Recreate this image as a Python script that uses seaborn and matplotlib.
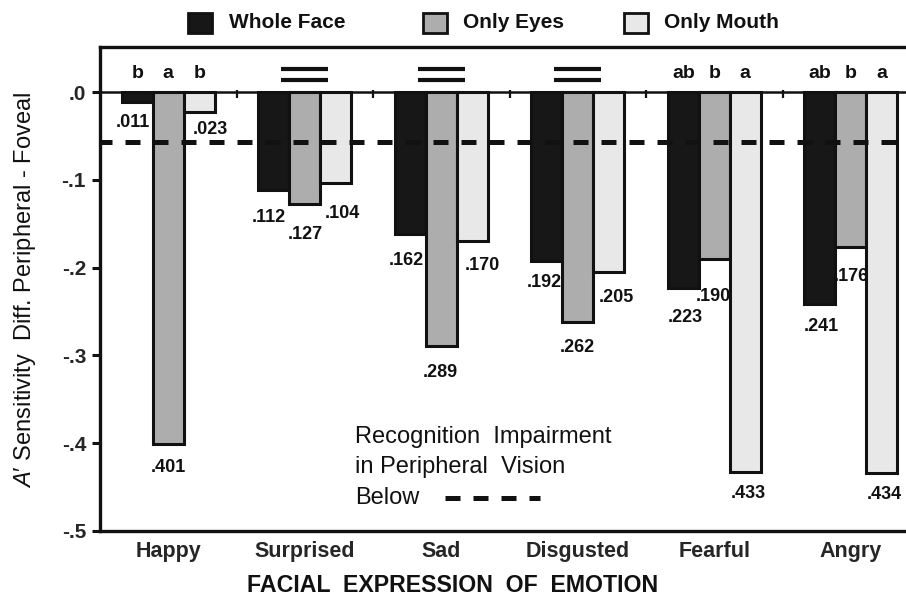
import numpy as np
import pandas as pd
import matplotlib
matplotlib.use("Agg")
import matplotlib.pyplot as plt
from matplotlib.patches import Rectangle
from matplotlib.lines import Line2D
import seaborn as sns

# ---------------- data ----------------
emotions = ["Happy", "Surprised", "Sad", "Disgusted", "Fearful", "Angry"]
conditions = ["Whole Face", "Only Eyes", "Only Mouth"]
whole_face = [-0.011, -0.112, -0.162, -0.192, -0.223, -0.241]
only_eyes = [-0.401, -0.127, -0.289, -0.262, -0.190, -0.176]
only_mouth = [-0.023, -0.104, -0.170, -0.205, -0.433, -0.434]
# significance letters above bars (None -> "=" sign, no difference)
sig_letters = [["b", "a", "b"], None, None, None, ["ab", "b", "a"], ["ab", "b", "a"]]
impairment_threshold = -0.057
ytick_values = [-0.5, -0.4, -0.3, -0.2, -0.1, 0.0]
ytick_labels = ["-.5", "-.4", "-.3", "-.2", "-.1", ".0"]

colors = ["#171717", "#adadad", "#e8e8e8"]

# value-label offsets in pixels (dx, dy below bar end), per condition
label_off = {
    "Whole Face": [(-4, 21), (-5, 27), (-4, 26), (-2, 22), (2, 30), (2, 23)],
    "Only Eyes": [(0, 23), (1, 31), (-1, 27), (0, 25), (-1, 38), (1, 30)],
    "Only Mouth": [(11, 17), (7, 30), (10, 24), (8, 25), (3, 21), (3, 21)],
}

df = pd.DataFrame({
    "emotion": np.repeat(emotions, 3),
    "condition": conditions * len(emotions),
    "value": np.ravel(np.column_stack([whole_face, only_eyes, only_mouth])),
})

# ---------------- figure ----------------
sns.set_style("white")
plt.rcParams["font.family"] = ["Liberation Sans", "DejaVu Sans"]
plt.rcParams["mathtext.fontset"] = "custom"
plt.rcParams["mathtext.rm"] = "Liberation Sans"
plt.rcParams["mathtext.it"] = "Liberation Sans:italic"

W, H = 906, 595
fig = plt.figure(figsize=(W / 100, H / 100), dpi=100)
ax_left, ax_right, ax_top, ax_bot = 100, 919, 47, 531
ax = fig.add_axes([ax_left / W, 1 - ax_bot / H, (ax_right - ax_left) / W, (ax_bot - ax_top) / H])

sns.barplot(data=df, x="emotion", y="value", hue="condition", order=emotions,
            hue_order=conditions, palette=colors, width=0.68, gap=0,
            edgecolor="#111111", linewidth=2.2, saturation=1, ax=ax,
            legend=False, zorder=2)

ax.set_xlim(-0.5, len(emotions) - 0.5)
ax.set_ylim(-0.5, 0.0513)

# spines
for side in ["left", "bottom", "top"]:
    ax.spines[side].set_linewidth(2.4)
    ax.spines[side].set_color("#111111")
ax.spines["right"].set_visible(False)

# zero line and small group-boundary ticks
ax.axhline(0, color="#111111", lw=1.8, zorder=3)
for b in np.arange(0.5, len(emotions) - 0.5, 1):
    ax.plot([b, b], [0.002, -0.007], color="#111111", lw=1.6, zorder=3,
            solid_capstyle="butt")

# impairment threshold dashed line
ax.axhline(impairment_threshold, color="#111111", lw=3.6, ls=(0.6, (3.0, 2.6)),
           zorder=4, dash_capstyle="butt")

# ticks
ax.set_yticks(ytick_values)
ax.set_yticklabels(ytick_labels, fontsize=15, fontweight="bold")
ax.tick_params(axis="y", direction="out", length=6, width=2.2, pad=4, left=True,
               color="#111111")
ax.tick_params(axis="x", length=0, pad=7)
ax.set_xticks(range(len(emotions)))
ax.set_xticklabels(emotions, fontsize=15.5, fontweight="bold")
ax.set_xlabel("")
ax.set_ylabel("")

# value labels
for j, cond in enumerate(conditions):
    cont = ax.containers[j]
    for i, bar in enumerate(cont):
        cx = bar.get_x() + bar.get_width() / 2
        v = df[(df.condition == cond) & (df.emotion == emotions[i])]["value"].iloc[0]
        dx, dy = label_off[cond][i]
        txt = f"{abs(v):.3f}"[1:]
        ax.annotate(txt, xy=(cx, v), xytext=(dx, -dy), textcoords="offset pixels",
                    ha="center", va="center", fontsize=13, fontweight="bold",
                    color="#111111", zorder=5)

# significance letters / equality signs
for i, lets in enumerate(sig_letters):
    if lets is None:
        for yy in (0.0265, 0.0140):
            ax.plot([i - 0.172, i + 0.172], [yy, yy], color="#111111", lw=3.0,
                    solid_capstyle="butt", zorder=3)
    else:
        for j, cont in enumerate(ax.containers):
            bar = cont[i]
            cx = bar.get_x() + bar.get_width() / 2
            ax.text(cx, 0.0215, lets[j], ha="center", va="center", fontsize=14,
                    fontweight="bold", color="#111111")

# in-plot annotation
ann_x = 355 / W
fs_ann = 17
fig.text(ann_x, 1 - 437 / H, "Recognition  Impairment", fontsize=fs_ann, va="center",
         ha="left", color="#111111")
fig.text(ann_x, 1 - 467 / H, "in Peripheral  Vision", fontsize=fs_ann, va="center",
         ha="left", color="#111111")
fig.text(ann_x, 1 - 498 / H, "Below", fontsize=fs_ann, va="center", ha="left",
         color="#111111")
fig.add_artist(Line2D([445 / W, 540 / W], [1 - 498 / H, 1 - 498 / H], color="#111111",
                      lw=3.6, ls=(0, (3.0, 2.6)), dash_capstyle="butt"))

# axis titles
fig.text(25 / W, 1 - 290 / H, r"$\mathit{A}$" + "\u2032 Sensitivity  Diff. Peripheral - Foveal",
         rotation=90, ha="center", va="center", fontsize=17, color="#111111")
fig.text(453 / W, 1 - 585 / H, "FACIAL  EXPRESSION  OF  EMOTION", ha="center",
         va="center", fontsize=16.7, fontweight="bold", color="#111111")

# legend (manual, top)
leg_items = [(188, 229), (423, 463), (624, 664)]
for (sx, tx), c, lab in zip(leg_items, colors, conditions):
    fig.patches.append(Rectangle((sx / W, 1 - 33 / H), 24 / W, 20 / H, facecolor=c,
                                 edgecolor="#111111", lw=2.0,
                                 transform=fig.transFigure, figure=fig))
    fig.text(tx / W, 1 - 23 / H, lab, ha="left", va="center", fontsize=15,
             fontweight="bold", color="#111111")

fig.savefig("out.png", dpi=100)
